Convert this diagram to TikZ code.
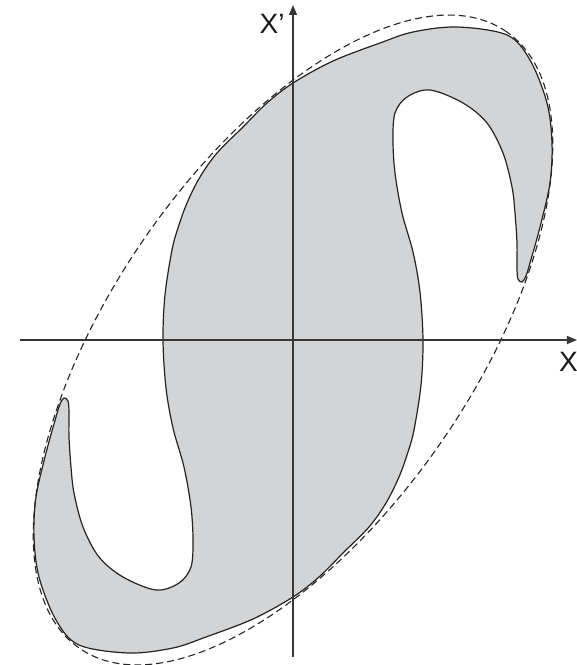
\documentclass[tikz,border=0pt]{standalone}
\usepackage{fontspec}
\setmainfont{Liberation Sans}
\usetikzlibrary{arrows.meta}
\definecolor{shapegray}{RGB}{211,212,214}
\definecolor{axisgray}{RGB}{55,55,55}
\definecolor{linegray}{RGB}{35,35,35}
\begin{document}
\begin{tikzpicture}[x=1pt,y=1pt,
  axis/.style={draw=axisgray, line width=1.4pt, -{Triangle[length=10pt,width=8pt]}},
  region/.style={fill=shapegray, draw=linegray, line width=1.2pt},
  envelope/.style={draw=linegray, line width=1.1pt, dash pattern=on 7pt off 4pt},
  lbl/.style={font=\fontsize{28}{28}\selectfont, text=black!90, inner sep=0pt, anchor=base west}]
\useasboundingbox (-293,-325) rectangle (284,340);
% S-shaped region (point symmetric about the origin)
\draw[region] plot[smooth cycle, tension=0.55] coordinates {
 (-130,0) (-128,45) (-121,90) (-115,112) (-106,137) (-93,163) (-76,187) (-50,213)
 (-26,237) (0,257) (40,279) (87,297) (120,308) (164,313) (214,305) (237,280)
 (254,237) (259,197) (257,157) (247,113) (237,77) (233,64) (229,58) (225,61)
 (224,72) (224,97) (222,127) (219,153) (210,187) (194,217) (170,237) (137,250)
 (114,243) (102,227) (100,200) (102,167) (109,127) (120,88) (127,48)
 (130,0)
 (128,-45) (121,-90) (115,-112) (106,-137) (93,-163) (76,-187) (50,-213)
 (26,-237) (0,-257) (-40,-279) (-87,-297) (-120,-308) (-164,-313) (-214,-305) (-237,-280)
 (-254,-237) (-259,-197) (-257,-157) (-247,-113) (-237,-77) (-233,-64) (-229,-58) (-225,-61)
 (-224,-72) (-224,-97) (-222,-127) (-219,-153) (-210,-187) (-194,-217) (-170,-237) (-137,-250)
 (-114,-243) (-102,-227) (-100,-200) (-102,-167) (-109,-127) (-120,-88) (-127,-48)};
% dashed ellipse
\coordinate (c) at (0,0);
\draw[envelope, rotate=55.3] (c) ellipse [x radius=375, y radius=180];
% axes
\coordinate (xl) at (-273,0);
\coordinate (xr) at (284,0);
\coordinate (yb) at (0,-317);
\coordinate (yt) at (0,335);
\draw[axis] (xl) -- (xr);
\draw[axis] (yb) -- (yt);
\node[lbl] (ylabel) at (-33.5,307) {X’};
\node[lbl] (xlabel) at (266,-31) {X};
\end{tikzpicture}
\end{document}
